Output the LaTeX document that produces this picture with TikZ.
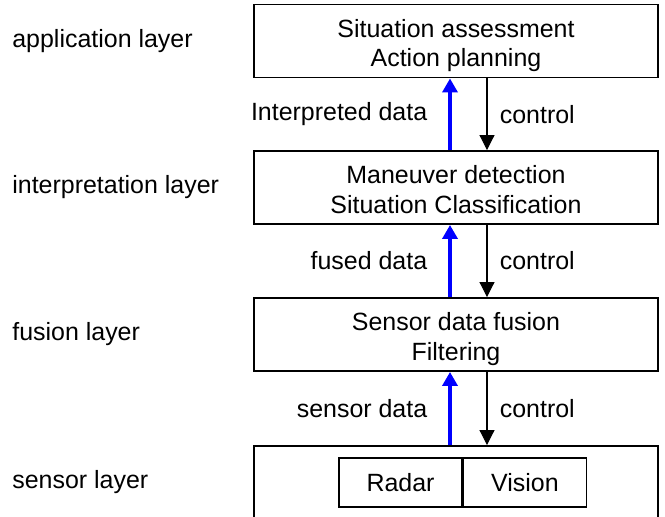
\documentclass[tikz,border=0pt]{standalone}
\usepackage{fontspec}
\setmainfont{Liberation Sans}
\usepackage{tikz}
\usetikzlibrary{arrows.meta, positioning, calc}
\definecolor{myblue}{RGB}{0, 0, 255}

\begin{document}
\begin{tikzpicture}[
    font=\fontsize{14.2}{16.7}\selectfont,
    layerbox/.style={rectangle, draw, line width=1.1pt, minimum width=8.08cm, minimum height=1.46cm, align=center,
        inner ysep=0pt, text height=1.13cm, text depth=0.1cm},
    sensorbox/.style={rectangle, draw, line width=0.8pt, minimum width=2.46cm, minimum height=0.98cm},
    layername/.style={anchor=west, inner xsep=0pt},
    dataup/.style={-{Triangle[width=0.3cm, length=0.28cm]}, myblue, text=black, line width=2.2pt},
    ctrldown/.style={-{Triangle[width=0.3cm, length=0.3cm]}, black, line width=0.6pt}
]
    \useasboundingbox (0, 0) rectangle (13.3, -10.34);

    % Schichten
    \node[layerbox] (app) at (9.12, -0.82) {Situation assessment\\Action planning};
    \node[layerbox] (interp) at (9.12, -3.75) {Maneuver detection\\Situation Classification};
    \node[layerbox] (fusion) at (9.12, -6.69) {Sensor data fusion\\Filtering};
    \node[layerbox, text height=0pt, text depth=0pt, minimum height=1.68cm] (sensor) at (9.12, -9.76) {};

    % Sensoren
    \node[sensorbox] (radar) at (8.01, -9.65) {Radar};
    \node[sensorbox, right=0cm of radar] (vision) {Vision};

    % Namen links
    \node[layername] (lapp) at (0.24, -0.82) {application layer};
    \node[layername] (linterp) at (0.24, -3.75) {interpretation layer};
    \node[layername] (lfusion) at (0.24, -6.69) {fusion layer};
    \node[layername] (lsensor) at (0.24, -9.64) {sensor layer};

    % Datenfluss nach oben
    \draw[dataup] ([xshift=-0.12cm]interp.north) -- ([xshift=-0.12cm]app.south)
        node[midway, left=0.3cm] {Interpreted data};
    \draw[dataup] ([xshift=-0.12cm]fusion.north) -- ([xshift=-0.12cm]interp.south)
        node[midway, left=0.3cm] {fused data};
    \draw[dataup] ([xshift=-0.12cm]sensor.north) -- ([xshift=-0.12cm]fusion.south)
        node[midway, left=0.3cm] {sensor data};

    % Steuerung nach unten
    \draw[ctrldown] ([xshift=0.62cm]app.south) -- ([xshift=0.62cm]interp.north)
        node[midway, right=0.13cm] {control};
    \draw[ctrldown] ([xshift=0.62cm]interp.south) -- ([xshift=0.62cm]fusion.north)
        node[midway, right=0.13cm] {control};
    \draw[ctrldown] ([xshift=0.62cm]fusion.south) -- ([xshift=0.62cm]sensor.north)
        node[midway, right=0.13cm] {control};
\end{tikzpicture}
\end{document}
